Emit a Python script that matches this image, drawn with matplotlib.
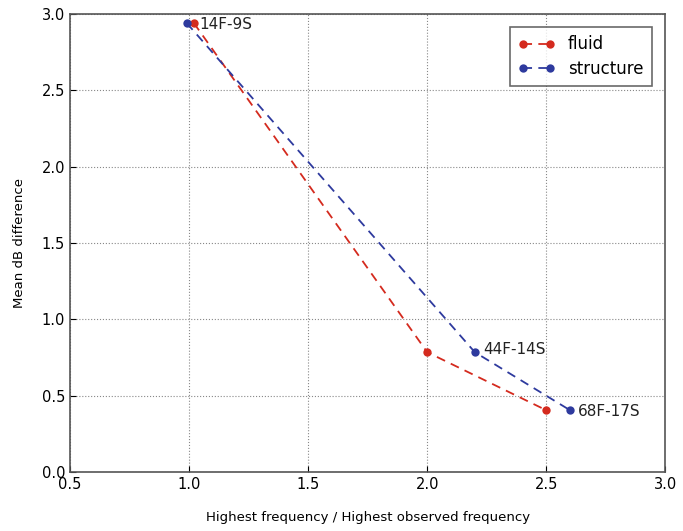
import numpy as np
import matplotlib.pyplot as plt

# data
fluid_x = [1.02, 2.0, 2.5]
fluid_y = [2.94, 0.785, 0.405]
struct_x = [0.99, 2.2, 2.6]
struct_y = [2.94, 0.785, 0.405]
labels = ['14F-9S', '44F-14S', '68F-17S']

fig = plt.figure(figsize=(6.83, 5.31), dpi=100)
ax = fig.add_axes([0.1025, 0.111, 0.8715, 0.863])

ax.plot(fluid_x, fluid_y, '--o', color='#d42a1e', markersize=6, linewidth=1.3,
        markeredgewidth=0, dashes=(5, 3.5), label='fluid')
ax.plot(struct_x, struct_y, '--o', color='#2e3a9e', markersize=6, linewidth=1.3,
        markeredgewidth=0, dashes=(5, 3.5), label='structure')

# labels next to the points
offsets = [(4, -1), (6, 2), (6, -1)]
ax.annotate(labels[0], (fluid_x[0], fluid_y[0]), xytext=offsets[0],
            textcoords='offset points', fontsize=11, va='center', color='#222222')
for i in (1, 2):
    ax.annotate(labels[i], (struct_x[i], struct_y[i]), xytext=offsets[i],
                textcoords='offset points', fontsize=11, va='center', color='#222222')

ax.set_xlim(0.5, 3.0)
ax.set_ylim(0.0, 3.0)
ax.set_xticks(np.arange(0.5, 3.01, 0.5))
ax.set_yticks(np.arange(0.0, 3.01, 0.5))
ax.tick_params(direction='in', labelsize=10.5, length=4)
ax.grid(True, linestyle=':', color='#888888', linewidth=0.8)
for s in ax.spines.values():
    s.set_color('#555555')
    s.set_linewidth(1.2)

ax.set_xlabel('Highest frequency / Highest observed frequency', fontsize=9.5, labelpad=14)
ax.set_ylabel('Mean dB difference', fontsize=9.5, labelpad=11)

leg = ax.legend(loc='upper right', fontsize=12, fancybox=False, numpoints=2,
                handlelength=2.2, borderpad=0.5, borderaxespad=0.8, labelspacing=0.4)
leg.get_frame().set_edgecolor('#444444')
leg.get_frame().set_linewidth(1.2)

fig.savefig('out.png', dpi=100)
